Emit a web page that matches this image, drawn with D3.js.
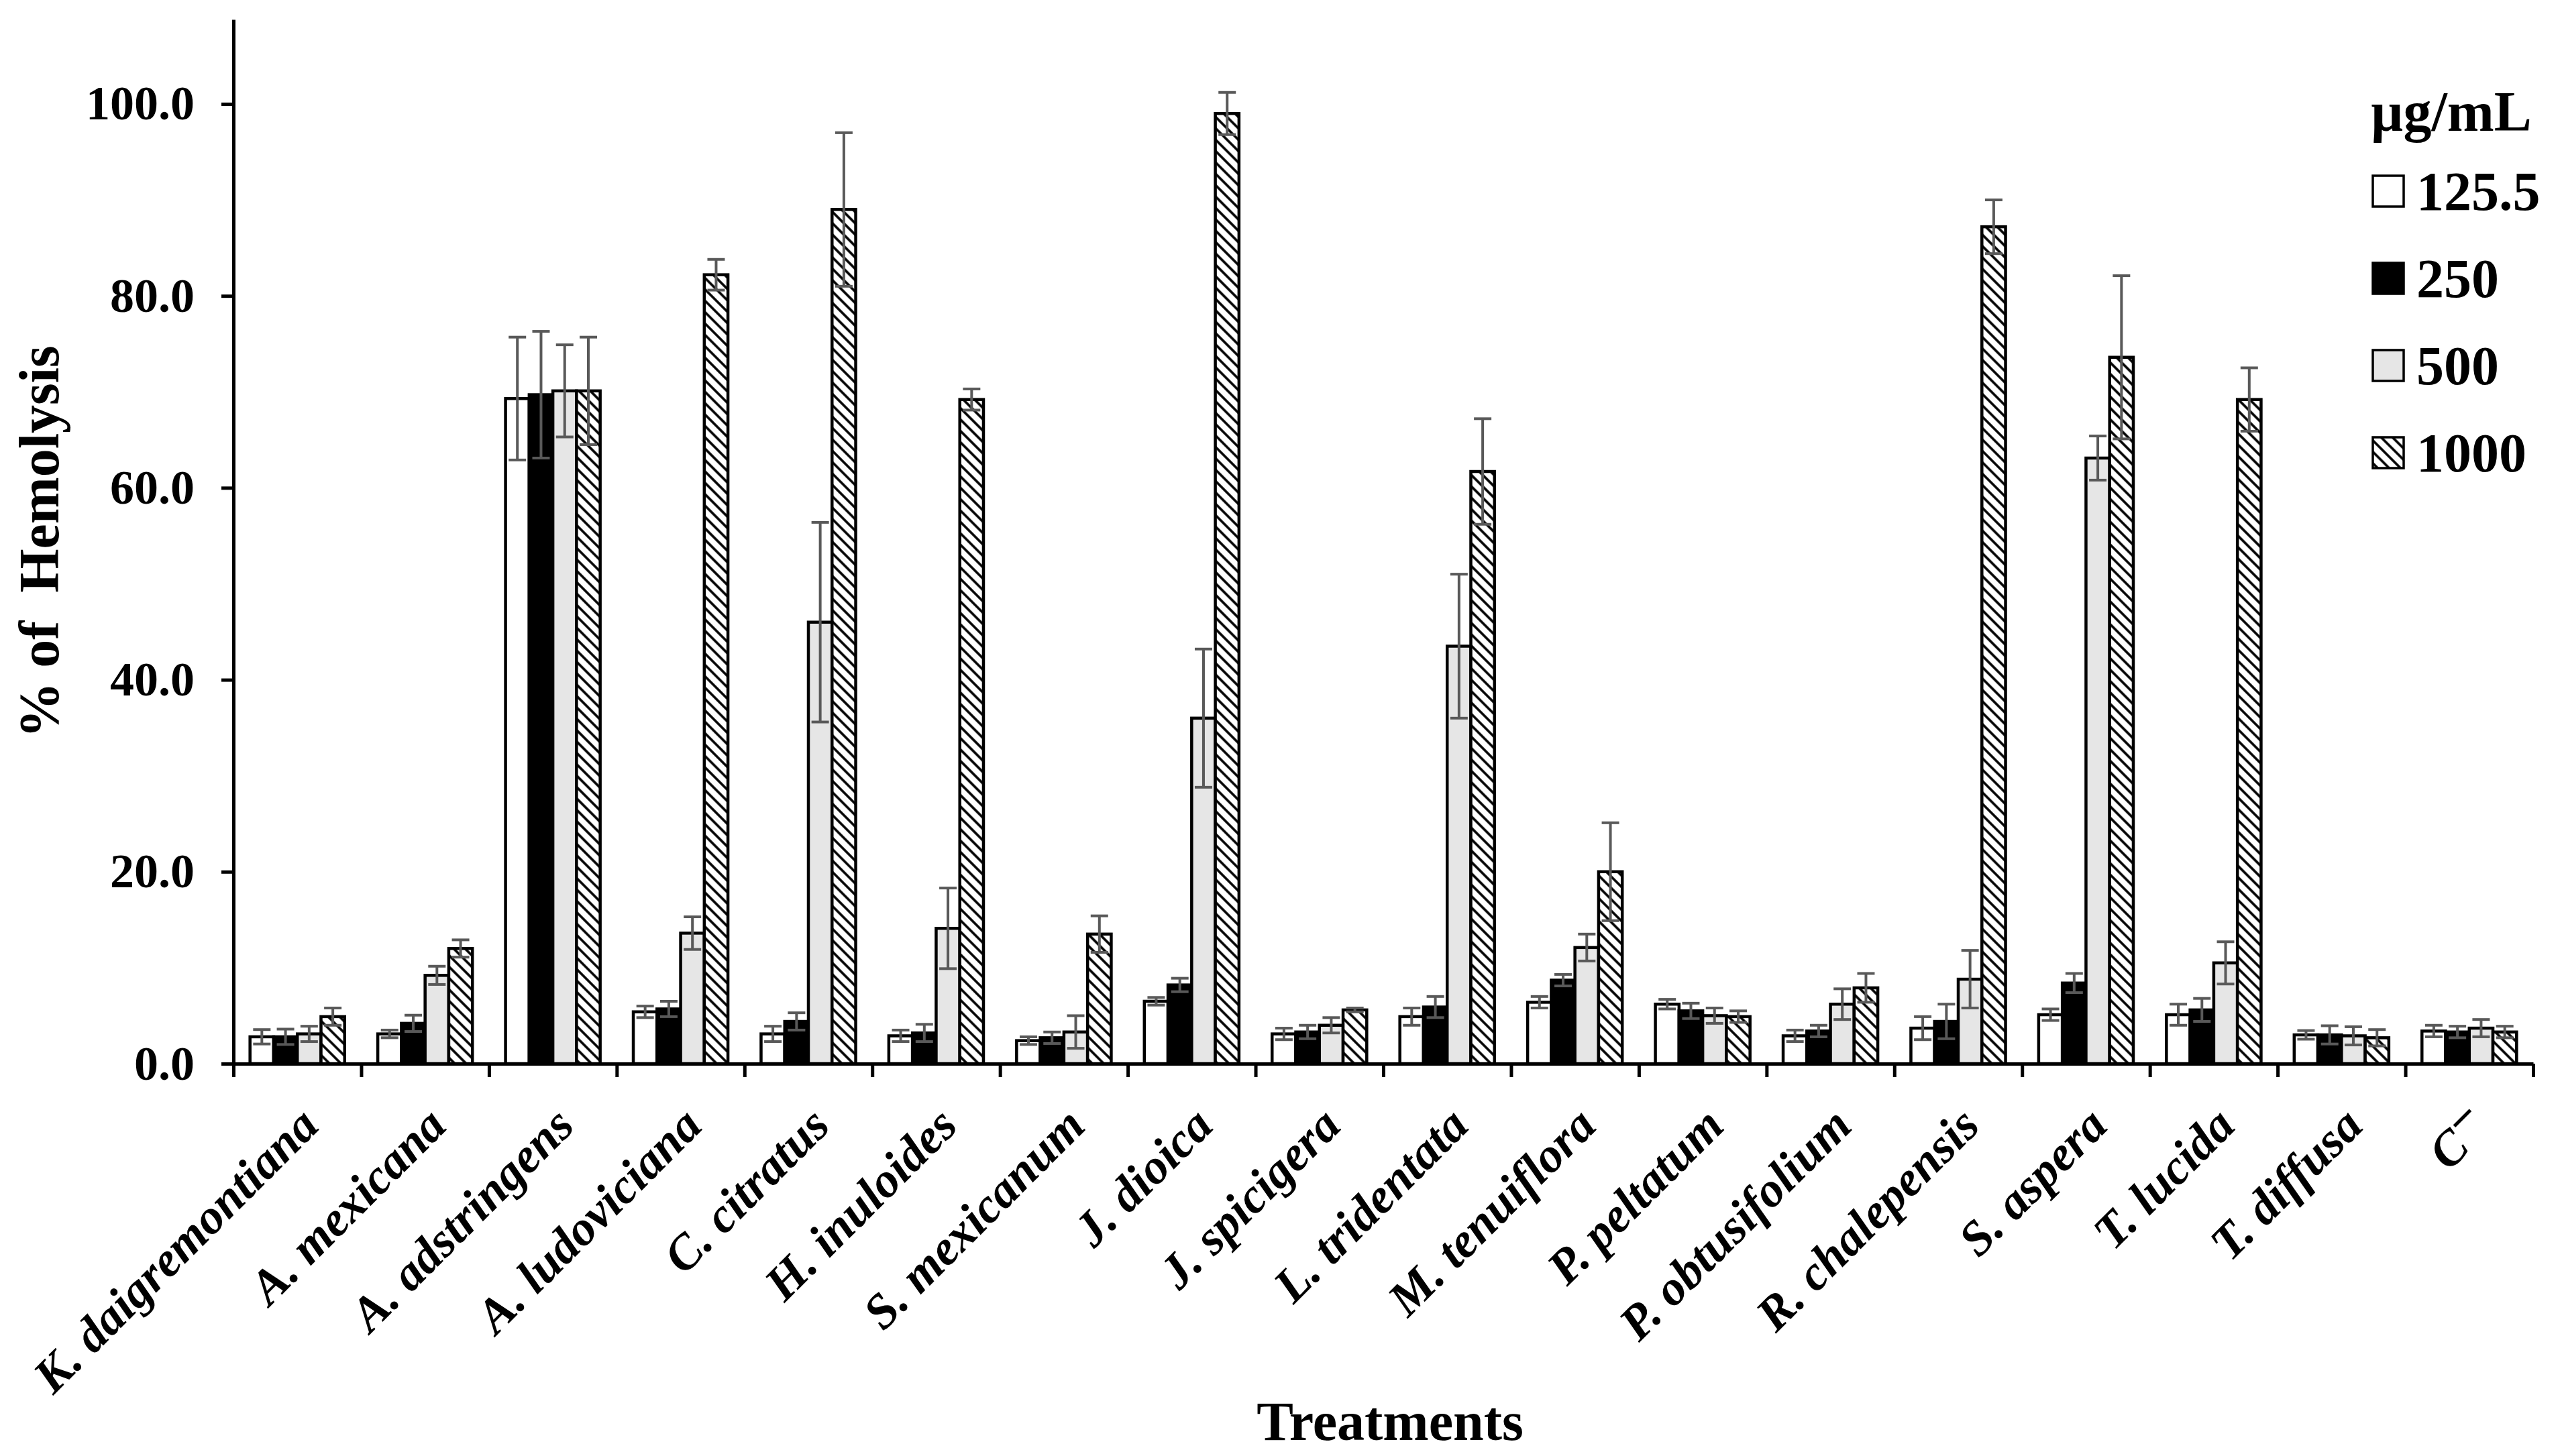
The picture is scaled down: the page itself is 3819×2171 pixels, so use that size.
<!DOCTYPE html>
<html>
<head>
<meta charset="utf-8">
<script src="https://cdn.jsdelivr.net/npm/d3@7"></script>
<style>
  body { margin: 0; background: #FFFFFF; }
  svg text { font-family: "Liberation Serif", "Times New Roman", serif; }
</style>
</head>
<body>
<main></main>
<script>
let svgWidth  = 3819;
let svgHeight = 2171;

// plot area (pixels)
let plotLeft   = 348;
let plotRight  = 3776;
let plotBottom = 1586;
let plotTop    = 29;

const categories = [
  'K. daigremontiana', 'A. mexicana', 'A. adstringens', 'A. ludoviciana',
  'C. citratus', 'H. inuloides', 'S. mexicanum', 'J. dioica', 'J. spicigera',
  'L. tridentata', 'M. tenuiflora', 'P. peltatum', 'P. obtusifolium',
  'R. chalepensis', 'S. aspera', 'T. lucida', 'T. diffusa', 'C\u2212'
];

const concentrations = ['125.5', '250', '500', '1000'];

const v125  = [2.8, 3.1, 69.3, 5.4, 3.1, 2.9, 2.4, 6.5, 3.1, 4.9, 6.4, 6.2, 2.9, 3.7, 5.1, 5.1, 3.0, 3.4];
const v250  = [2.8, 4.2, 69.7, 5.7, 4.4, 3.2, 2.7, 8.2, 3.3, 5.9, 8.7, 5.5, 3.4, 4.4, 8.4, 5.6, 3.0, 3.3];
const v500  = [3.1, 9.2, 70.1, 13.6, 46.0, 14.1, 3.3, 36.0, 4.0, 43.5, 12.1, 5.0, 6.2, 8.8, 63.1, 10.5, 2.9, 3.7];
const v1000 = [4.9, 12.0, 70.1, 82.2, 89.0, 69.2, 13.5, 99.0, 5.6, 61.7, 20.0, 4.9, 7.9, 87.2, 73.6, 69.2, 2.7, 3.3];

const e125  = [0.75, 0.4, 6.4, 0.6, 0.8, 0.6, 0.4, 0.4, 0.6, 0.9, 0.6, 0.5, 0.6, 1.2, 0.6, 1.1, 0.45, 0.6];
const e250  = [0.8, 0.85, 6.6, 0.8, 0.9, 0.9, 0.6, 0.7, 0.7, 1.1, 0.6, 0.8, 0.6, 1.8, 1.0, 1.2, 0.95, 0.6];
const e500  = [0.8, 0.95, 4.8, 1.7, 10.4, 4.2, 1.7, 7.2, 0.8, 7.5, 1.4, 0.8, 1.6, 3.0, 2.3, 2.2, 0.95, 0.9];
const e1000 = [0.9, 0.9, 5.6, 1.6, 8.0, 1.1, 1.9, 2.2, 0.2, 5.5, 5.1, 0.6, 1.5, 2.8, 8.5, 3.3, 0.85, 0.6];

const yTicks = [0, 20, 40, 60, 80, 100];
const yMax   = 108.8;

const fills = ['#FFFFFF', '#000000', '#E6E6E6', 'url(#hatch)'];
const errColor = '#595959';

var svg;

function buildData() {
  let values = [v125, v250, v500, v1000];
  let errors = [e125, e250, e500, e1000];
  let data = [];

  for (let i = 0; i < categories.length; ++i) {
    for (let j = 0; j < concentrations.length; ++j) {
      data.push({
        cat:   categories[i],
        conc:  concentrations[j],
        value: values[j][i],
        err:   errors[j][i],
        fill:  fills[j]
      });
    }
  }

  return data;
};

function addHatch(defs) {
  var p = defs.append('pattern')
    .attr('id', 'hatch')
    .attr('patternUnits', 'userSpaceOnUse')
    .attr('width', 12)
    .attr('height', 12)
    .attr('patternTransform', 'rotate(-45)')
  ;
  p.append('rect').attr('width', 12).attr('height', 12).attr('fill', '#FFFFFF');
  p.append('line')
    .attr('x1', 6).attr('y1', -1)
    .attr('x2', 6).attr('y2', 13)
    .attr('stroke', '#000000')
    .attr('stroke-width', 3.6)
  ;
};

function drawLabel(sel, label) {
  // "C−" gets a raised minus
  if (label.endsWith('\u2212')) {
    sel.text(label.slice(0, -1));
    sel.append('tspan')
      .attr('dy', '-0.25em')
      .text('\u2212');
  } else {
    sel.text(label);
  }
};

document.addEventListener("DOMContentLoaded", function() {
  let data = buildData();

  svg = d3
    .select("body main")
    .append('svg')
    .attr('width', svgWidth)
    .attr('height', svgHeight)
    .style('display', 'block')
    .style('background', '#FFFFFF')
  ;

  addHatch(svg.append('defs'));

  let x0 = d3.scaleBand()
    .domain(categories)
    .range([plotLeft, plotRight])
    .padding(0)
  ;

  let x1 = d3.scaleBand()
    .domain(concentrations)
    .range([0, x0.bandwidth()])
    .paddingInner(0)
    .paddingOuter(0.7)
  ;

  let y = d3.scaleLinear()
    .domain([0, yMax])
    .range([plotBottom, plotTop])
  ;

  // bars
  svg.append('g')
    .selectAll('rect')
    .data(data)
    .enter()
      .append('rect')
        .attr('x', function(d) { return x0(d.cat) + x1(d.conc); })
        .attr('y', function(d) { return y(d.value); })
        .attr('width', x1.bandwidth())
        .attr('height', function(d) { return y(0) - y(d.value); })
        .attr('fill', function(d) { return d.fill; })
        .attr('stroke', '#000000')
        .attr('stroke-width', 4.5)
  ;

  // error bars
  let capHalf = 13;
  let eb = svg.append('g')
    .attr('stroke', errColor)
    .attr('stroke-width', 4)
    .selectAll('g')
    .data(data)
    .enter()
      .append('g')
        .attr('transform', function(d) {
          return 'translate(' + (x0(d.cat) + x1(d.conc) + x1.bandwidth() / 2) + ',0)';
        })
  ;
  eb.append('line')
    .attr('y1', function(d) { return y(d.value - d.err); })
    .attr('y2', function(d) { return y(d.value + d.err); })
  ;
  eb.append('line')
    .attr('x1', -capHalf).attr('x2', capHalf)
    .attr('y1', function(d) { return y(d.value + d.err); })
    .attr('y2', function(d) { return y(d.value + d.err); })
  ;
  eb.append('line')
    .attr('x1', -capHalf).attr('x2', capHalf)
    .attr('y1', function(d) { return y(d.value - d.err); })
    .attr('y2', function(d) { return y(d.value - d.err); })
  ;

  // y axis
  let yAxis = svg.append('g')
    .attr('transform', 'translate(' + plotLeft + ',0)')
    .call(d3.axisLeft(y)
      .tickValues(yTicks)
      .tickFormat(d3.format('.1f'))
      .tickSize(18)
      .tickSizeOuter(0)
      .tickPadding(40))
  ;
  yAxis.selectAll('path, line').attr('stroke', '#000000').attr('stroke-width', 5);
  yAxis.selectAll('text')
    .attr('font-family', '"Liberation Serif", "Times New Roman", serif')
    .attr('font-size', 72)
    .attr('font-weight', 'bold')
    .attr('fill', '#000000')
  ;

  // x axis: boundary ticks
  let xb = d3.scaleLinear().domain([0, categories.length]).range([plotLeft, plotRight]);
  let xAxis = svg.append('g')
    .attr('transform', 'translate(0,' + plotBottom + ')')
    .call(d3.axisBottom(xb)
      .tickValues(d3.range(categories.length + 1))
      .tickFormat('')
      .tickSize(20)
      .tickSizeOuter(0))
  ;
  xAxis.selectAll('path, line').attr('stroke', '#000000').attr('stroke-width', 5);

  // x axis: category labels
  let xLab = svg.append('g')
    .attr('transform', 'translate(0,' + plotBottom + ')')
    .call(d3.axisBottom(x0).tickSize(0))
  ;
  xLab.select('.domain').remove();
  xLab.selectAll('.tick text')
    .attr('x', 35)
    .attr('y', 96)
    .attr('dy', 0)
    .attr('transform', 'rotate(-45, 35, 96)')
    .attr('text-anchor', 'end')
    .attr('font-family', '"Liberation Serif", "Times New Roman", serif')
    .attr('font-size', 73)
    .attr('font-weight', 'bold')
    .attr('font-style', 'italic')
    .attr('fill', '#000000')
    .each(function(d) { drawLabel(d3.select(this), d); })
  ;

  // axis titles
  svg.append('text')
    .attr('transform', 'translate(87,808) rotate(-90)')
    .attr('text-anchor', 'middle')
    .attr('font-size', 84)
    .attr('font-weight', 'bold')
    .style('white-space', 'pre')
    .text('% of  Hemolysis')
  ;

  svg.append('text')
    .attr('x', 2072)
    .attr('y', 2147)
    .attr('text-anchor', 'middle')
    .attr('font-size', 82)
    .attr('font-weight', 'bold')
    .text('Treatments')
  ;

  // legend
  let legend = svg.append('g');
  legend.append('text')
    .attr('x', 3534)
    .attr('y', 195)
    .attr('font-size', 84)
    .attr('font-weight', 'bold')
    .text('\u00B5g/mL')
  ;

  let items = legend.selectAll('g.item')
    .data(concentrations)
    .enter()
      .append('g')
        .attr('class', 'item')
        .attr('transform', function(d, i) { return 'translate(0,' + (285 + i * 130) + ')'; })
  ;
  items.append('rect')
    .attr('x', 3537)
    .attr('y', -23)
    .attr('width', 46)
    .attr('height', 46)
    .attr('fill', function(d, i) { return fills[i]; })
    .attr('stroke', '#000000')
    .attr('stroke-width', 3.5)
  ;
  items.append('text')
    .attr('x', 3602)
    .attr('y', 28)
    .attr('font-size', 82)
    .attr('font-weight', 'bold')
    .text(function(d) { return d; })
  ;
});
</script>
</body>
</html>
